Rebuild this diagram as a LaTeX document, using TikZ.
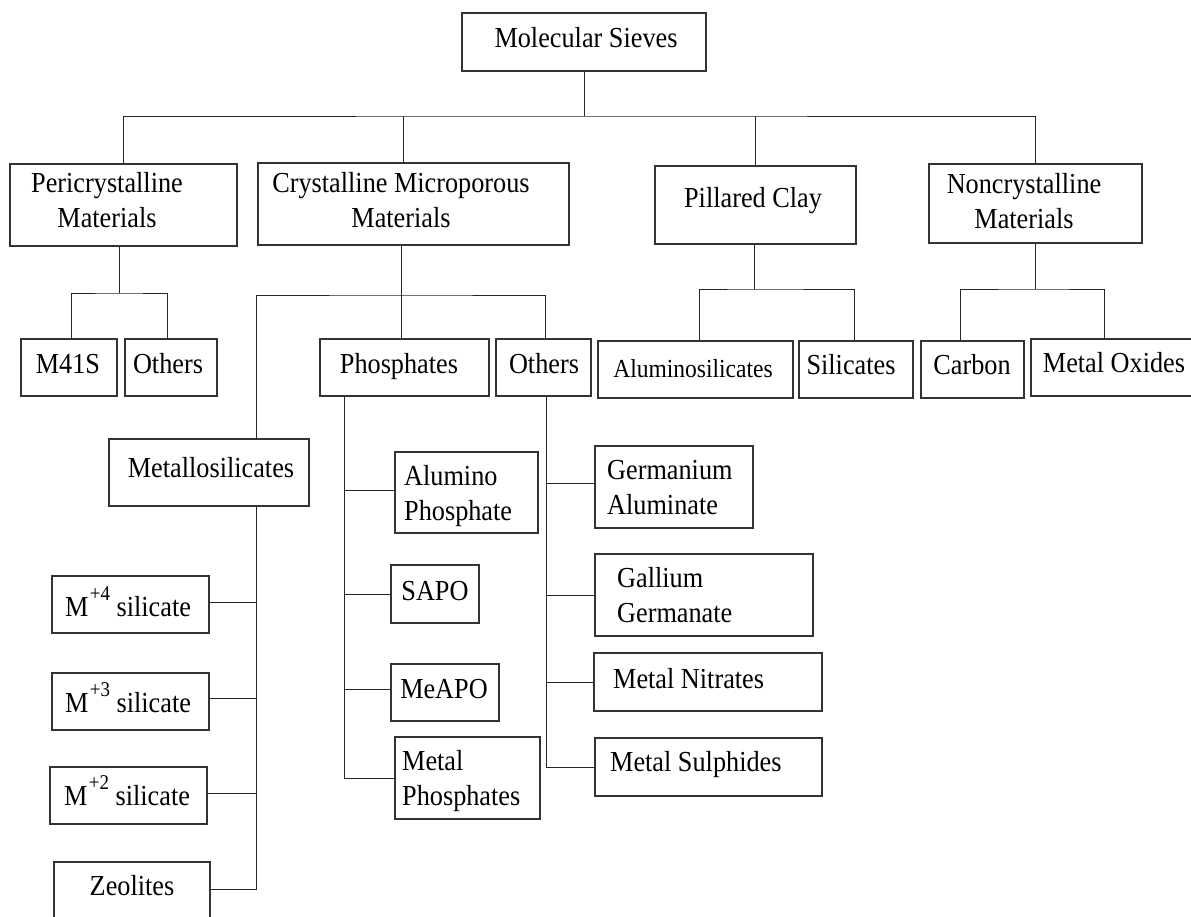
\documentclass[tikz,border=0pt]{standalone}
\usepackage{fontspec}
\setmainfont{Liberation Serif}[FakeStretch=0.905]
\usetikzlibrary{fit}
\newcommand\mpower[1]{M\kern1.5pt\raisebox{16pt}{\fontsize{21}{21}\selectfont #1}}
\begin{document}
\begin{tikzpicture}[x=1pt,y=-1pt,
  box/.style={draw=black!80, line width=1.1pt, inner sep=0pt},
  conn/.style={draw=black!85, line width=0.9pt},
  txt/.style={font=\fontsize{29}{35}\selectfont, inner sep=0pt, anchor=base},
  txtl/.style={txt, anchor=base west, align=left},
  txtc/.style={txt, align=center}]
\useasboundingbox (0,0) rectangle (1191,917);
\clip (0,0) rectangle (1191,917);
\fill[white] (0,0) rectangle (1191,917);

% boxes
\node[box, fit={(462,13)(706,71)}] (ms) {};
\node[box, fit={(10,164)(237,246)}] (peri) {};
\node[box, fit={(258,163)(569,245)}] (cryst) {};
\node[box, fit={(655,166)(856,244)}] (pill) {};
\node[box, fit={(929,164)(1142,243)}] (nonc) {};
\node[box, fit={(21,339)(117,396)}] (m41s) {};
\node[box, fit={(125,339)(217,396)}] (oth1) {};
\node[box, fit={(320,339)(489,396)}] (phos) {};
\node[box, fit={(496,339)(591,396)}] (oth2) {};
\node[box, fit={(598,341)(793,398)}] (alum) {};
\node[box, fit={(799,341)(913,398)}] (sil) {};
\node[box, fit={(921,341)(1024,398)}] (carb) {};
\node[box, fit={(1031,339)(1250,396)}] (mox) {};
\node[box, fit={(109,439)(309,506)}] (metallo) {};
\node[box, fit={(52,576)(209,633)}] (m4) {};
\node[box, fit={(52,673)(209,730)}] (m3) {};
\node[box, fit={(50,767)(207,824)}] (m2) {};
\node[box, fit={(54,862)(210,930)}] (zeo) {};
\node[box, fit={(395,452)(538,533)}] (alpo) {};
\node[box, fit={(391,565)(479,623)}] (sapo) {};
\node[box, fit={(391,664)(499,721)}] (meapo) {};
\node[box, fit={(395,737)(540,819)}] (mphos) {};
\node[box, fit={(595,446)(753,528)}] (geal) {};
\node[box, fit={(595,554)(813,636)}] (gage) {};
\node[box, fit={(594,653)(822,711)}] (mnit) {};
\node[box, fit={(595,738)(822,796)}] (msul) {};

% texts (multi-line nodes: base = baseline of last line)
\node[txt] (ms-t) at (586,48) {Molecular Sieves};
\node[txtc] (peri-t) at (107,228) {Pericrystalline\\Materials};
\node[txtc] (cryst-t) at (401,228) {Crystalline Microporous\\Materials};
\node[txt] (pill-t) at (753,208) {Pillared Clay};
\node[txtc] (nonc-t) at (1024,229) {Noncrystalline\\Materials};
\node[txt] (m41s-t) at (68,373) {M41S};
\node[txt] (oth1-t) at (168,373) {Others};
\node[txt] (phos-t) at (399,373) {Phosphates};
\node[txt] (oth2-t) at (544,373) {Others};
\node[txt, font=\fontsize{26}{30}\selectfont] (alum-t) at (693,377) {Aluminosilicates};
\node[txt] (sil-t) at (851,374) {Silicates};
\node[txt] (carb-t) at (972,374) {Carbon};
\node[txt] (mox-t) at (1114,372) {Metal Oxides};
\node[txt] (metallo-t) at (211,477) {Metallosilicates};
\node[txt] (m4-t) at (128,616) {\mpower{+4} silicate};
\node[txt] (m3-t) at (128,712) {\mpower{+3} silicate};
\node[txt] (m2-t) at (127,805) {\mpower{+2} silicate};
\node[txt] (zeo-t) at (132,895) {Zeolites};
\node[txtl] (alpo-t) at (404,520) {Alumino\\Phosphate};
\node[txt] (sapo-t) at (435,600) {SAPO};
\node[txt] (meapo-t) at (444,698) {MeAPO};
\node[txtl] (mphos-t) at (402,805) {Metal\\Phosphates};
\node[txtl] (geal-t) at (607,514) {Germanium\\Aluminate};
\node[txtl] (gage-t) at (617,622) {Gallium\\Germanate};
\node[txtl] (mnit-t) at (613,688) {Metal Nitrates};
\node[txtl] (msul-t) at (610,771) {Metal Sulphides};

% junction coordinates
\coordinate (top) at (584,116);
\coordinate (pj) at (119,293);
\coordinate (cj) at (401,295);
\coordinate (mx) at (256,295);
\coordinate (pj2) at (754,289);
\coordinate (nj) at (1035,289);
\coordinate (mxv) at (1104,289);
\coordinate (px) at (344,396);
\coordinate (ox) at (546,396);

% level 1
\draw[conn] (ms.south) -- (top);
\draw[conn] (peri.north) |- (top) -| (nonc.north);
\draw[conn] ([xshift=-10.5pt]cryst.north) -- ([xshift=-10.5pt]cryst.north |- top);
\draw[conn] (pill.north) -- (pill.north |- top);

% pericrystalline
\draw[conn] (peri.south -| pj) -- (pj);
\draw[conn] ([xshift=2pt]m41s.north) |- (pj) -| ([xshift=-4pt]oth1.north);

% crystalline
\draw[conn] (cryst.south -| cj) -- (phos.north -| cj);
\draw[conn] (metallo.north -| mx) |- (cj) -| ([xshift=1.5pt]oth2.north);

% pillared clay
\draw[conn] (pill.south -| pj2) -- (pj2);
\draw[conn] ([xshift=3.5pt]alum.north) |- (pj2) -| ([xshift=-2pt]sil.north);

% noncrystalline
\draw[conn] (nonc.south -| nj) -- (nj);
\draw[conn] ([xshift=-12.5pt]carb.north) |- (nj) -- (mxv) -- (mox.north -| mxv);

% metallosilicates
\draw[conn] (metallo.south -| mx) |- ([yshift=7pt]zeo.east);
\draw[conn] ([yshift=2.5pt]m4.east) -- ([yshift=2.5pt]m4.east -| mx);
\draw[conn] ([yshift=3.5pt]m3.east) -- ([yshift=3.5pt]m3.east -| mx);
\draw[conn] ([yshift=2.5pt]m2.east) -- ([yshift=2.5pt]m2.east -| mx);

% phosphates
\draw[conn] (phos.south -| px) |- (mphos.west);
\draw[conn] ([yshift=2.5pt]alpo.west) -- ([yshift=2.5pt]alpo.west -| px);
\draw[conn] (sapo.west) -- (sapo.west -| px);
\draw[conn] ([yshift=3.5pt]meapo.west) -- ([yshift=3.5pt]meapo.west -| px);

% others
\draw[conn] (oth2.south -| ox) |- (msul.west);
\draw[conn] ([yshift=4pt]geal.west) -- ([yshift=4pt]geal.west -| ox);
\draw[conn] (gage.west) -- (gage.west -| ox);
\draw[conn] (mnit.west) -- (mnit.west -| ox);
\end{tikzpicture}
\end{document}
